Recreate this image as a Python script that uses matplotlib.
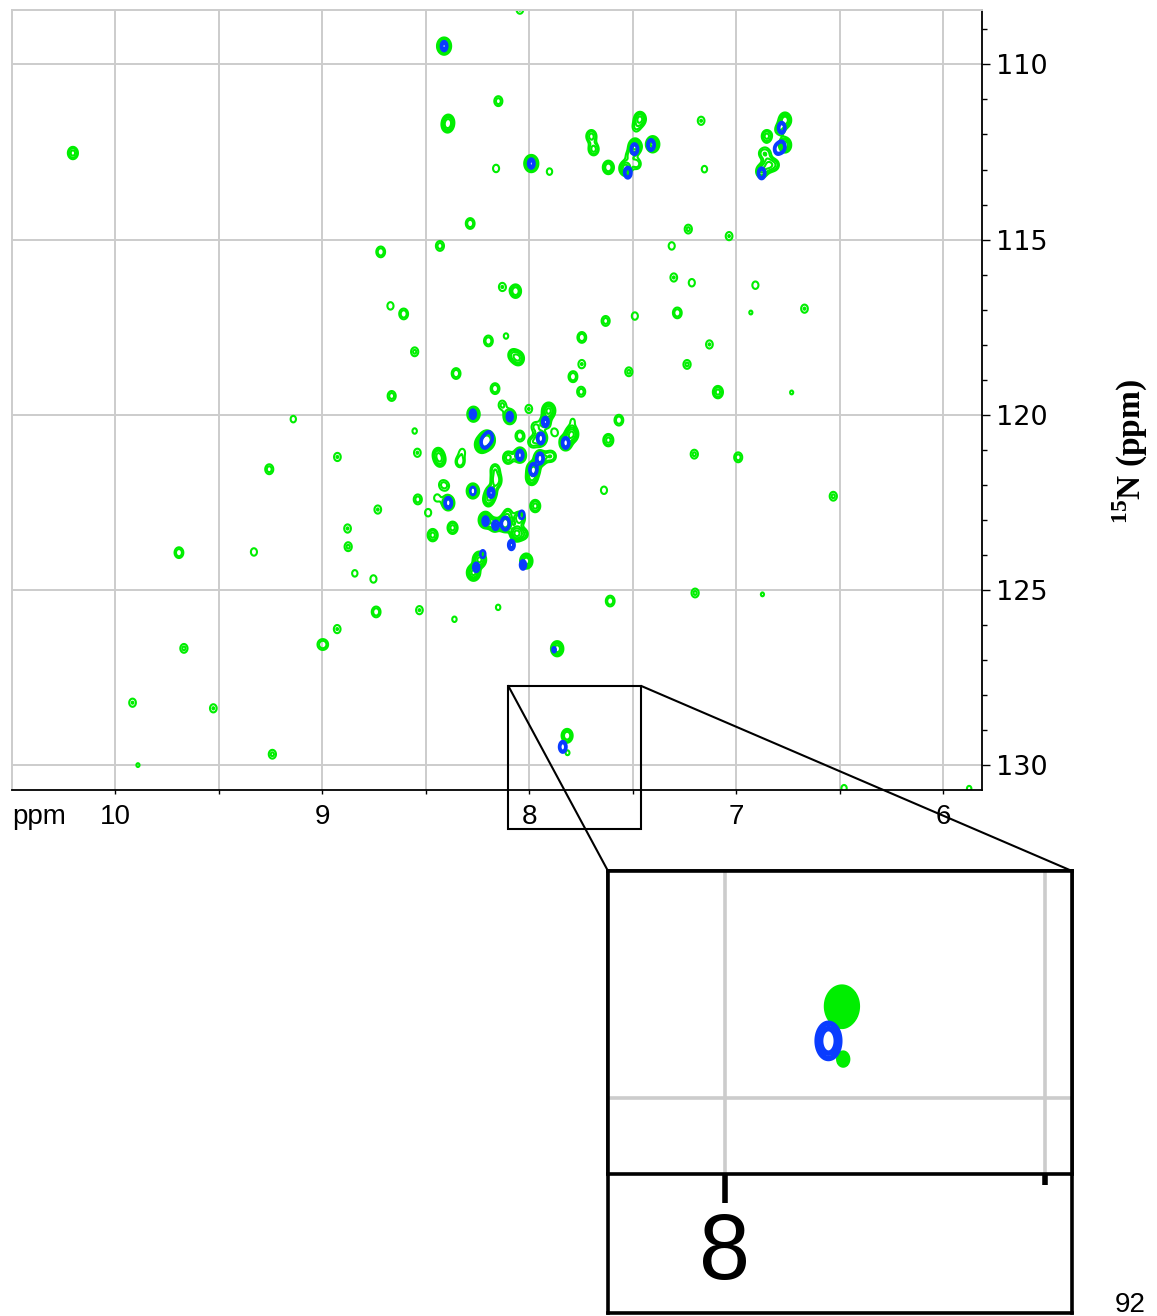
import numpy as np
import matplotlib
matplotlib.use("Agg")
import matplotlib.pyplot as plt
from matplotlib.patches import Rectangle, ConnectionPatch
from matplotlib.ticker import FixedLocator, FuncFormatter

plt.rcParams["mathtext.fontset"] = "custom"
plt.rcParams["mathtext.rm"] = "Liberation Serif:bold"
plt.rcParams["mathtext.bf"] = "Liberation Serif:bold"

# 1H / 15N peak positions (ppm) and heights, green spectrum
green_h = [10.203, 8.045, 8.411, 8.149, 8.390, 8.395, 7.700, 7.465, 7.484, 7.689,
           7.489, 7.404, 7.517, 7.481, 7.535, 7.618, 7.990, 8.160, 7.902, 8.285,
           8.431, 8.717, 7.170, 7.154, 6.765, 6.853, 6.765, 6.874, 6.850, 6.845,
           6.813, 6.878, 7.232, 7.312, 7.035, 6.790,
           9.139, 9.255, 8.926, 8.130, 8.066, 8.670, 8.606, 8.197, 8.112, 8.079,
           8.052, 8.553, 8.353, 8.165, 8.664, 8.130, 8.002, 7.906, 8.269, 8.094,
           7.922, 7.790, 7.971, 8.204, 8.230, 8.045, 7.944, 7.984, 7.877, 7.795,
           7.824, 7.631, 7.490, 7.746, 7.746, 7.519, 7.789, 7.749, 7.567, 7.618,
           7.639, 8.540, 8.553, 8.440, 8.430, 8.334, 8.323, 8.165, 8.160, 8.102,
           8.045, 7.948, 7.980, 7.988, 7.906, 7.887, 8.272, 8.184, 8.197, 8.391,
           8.538, 8.446, 8.422, 8.400, 8.731, 8.488, 7.971, 8.212, 8.167, 8.116,
           8.103, 8.047, 8.370, 8.877, 8.159, 8.061, 8.024, 8.466, 8.874, 8.842,
           8.752, 8.240, 8.269, 8.014, 8.739, 8.530, 8.150, 8.361, 8.927, 7.609,
           7.865, 7.817, 7.815, 7.302, 7.215, 6.908, 7.285, 6.930, 6.671, 7.130,
           7.238, 7.089, 6.733, 7.203, 6.991, 6.532, 9.691, 9.329, 9.006, 8.985,
           9.667, 9.915, 9.525, 9.240, 9.889, 7.199, 6.874, 6.480, 5.876]
green_n = [112.53, 108.44, 109.48, 111.05, 111.62, 111.76, 112.05, 111.56, 111.80, 112.42,
           112.35, 112.28, 112.61, 112.84, 112.97, 112.94, 112.83, 112.97, 113.06, 114.54,
           115.18, 115.35, 111.61, 112.99, 111.59, 112.05, 112.30, 112.54, 112.54, 112.87,
           112.87, 113.05, 114.70, 115.18, 114.90, 111.85,
           120.12, 121.55, 121.20, 116.35, 116.47, 116.89, 117.12, 117.89, 117.75, 118.29,
           118.39, 118.20, 118.82, 119.25, 119.46, 119.72, 119.83, 119.88, 119.98, 120.05,
           120.20, 120.17, 120.34, 120.72, 120.85, 120.60, 120.67, 120.78, 120.50, 120.55,
           120.80, 117.32, 117.18, 117.79, 118.55, 118.77, 118.91, 119.34, 120.15, 120.72,
           122.15, 121.08, 120.46, 121.12, 121.30, 121.34, 121.05, 121.55, 121.80, 121.22,
           121.15, 121.24, 121.56, 121.81, 121.18, 121.18, 122.17, 122.22, 122.43, 122.51,
           122.41, 122.37, 121.98, 122.03, 122.70, 122.79, 122.60, 123.00, 123.14, 123.10,
           122.81, 122.95, 123.22, 123.24, 121.94, 123.38, 123.40, 123.43, 123.76, 124.52,
           124.68, 124.13, 124.50, 124.17, 125.62, 125.57, 125.49, 125.83, 126.11, 125.31,
           126.67, 129.15, 129.64, 116.08, 116.23, 116.30, 117.09, 117.08, 116.97, 117.99,
           118.56, 119.35, 119.36, 121.12, 121.21, 122.32, 123.93, 123.91, 126.55, 126.55,
           126.66, 128.21, 128.37, 129.68, 129.99, 125.08, 125.12, 130.65, 130.66]
green_amp = [2.5, 1.5, 6.0, 1.8, 2.5, 2.5, 2.5, 3.5, 1.4, 2.5,
             5.0, 5.0, 1.4, 1.8, 4.0, 3.0, 6.0, 1.4, 1.3, 2.0,
             1.8, 2.0, 1.5, 1.3, 4.0, 2.5, 4.0, 1.4, 1.2, 3.0,
             1.6, 3.0, 1.6, 1.4, 1.5, 2.0,
             1.3, 1.8, 1.5, 1.5, 3.0, 1.4, 2.0, 2.0, 1.2, 2.0,
             3.0, 1.6, 2.0, 2.0, 1.8, 1.6, 1.5, 5.0, 4.0, 4.0,
             2.5, 1.1, 1.6, 10.0, 5.0, 2.0, 4.0, 1.8, 1.4, 5.0,
             4.0, 1.8, 1.4, 2.0, 1.5, 1.6, 2.0, 1.8, 2.0, 2.5,
             1.4, 1.5, 1.2, 2.5, 2.5, 2.0, 1.2, 1.8, 1.8, 2.5,
             4.0, 4.0, 5.0, 3.0, 1.2, 1.2, 4.0, 3.0, 2.5, 4.0,
             1.8, 1.3, 1.1, 1.1, 1.5, 1.4, 2.5, 5.0, 3.0, 6.0,
             1.6, 3.0, 2.5, 1.5, 1.5, 5.0, 1.5, 2.5, 1.6, 1.3,
             1.4, 5.0, 5.0, 4.0, 2.0, 1.5, 1.2, 1.2, 1.5, 2.0,
             4.0, 3.0, 1.15, 1.5, 1.4, 1.4, 2.0, 1.1, 1.5, 1.5,
             1.6, 2.5, 1.1, 1.6, 1.8, 1.6, 2.0, 1.4, 1.3, 1.1,
             1.6, 1.5, 1.5, 1.6, 1.1, 1.6, 1.1, 1.3, 1.2]

# blue spectrum
blue_h = [8.411, 7.990, 7.492, 7.412, 7.524, 6.781, 6.781, 6.802, 6.878, 8.272,
          8.094, 7.922, 8.215, 8.195, 7.944, 7.824, 8.045, 7.948, 7.980, 8.272,
          8.184, 8.391, 8.211, 8.163, 8.115, 8.036, 8.086, 8.224, 8.256, 8.030,
          7.880, 7.838]
blue_n = [109.48, 112.83, 112.42, 112.30, 113.09, 111.81, 112.35, 112.42, 113.11, 119.98,
          120.05, 120.20, 120.78, 120.65, 120.67, 120.80, 121.15, 121.24, 121.56, 122.17,
          122.22, 122.51, 123.03, 123.15, 123.10, 122.85, 123.71, 123.97, 124.35, 124.28,
          126.70, 129.47]
blue_amp = [2.0, 2.0, 2.5, 2.5, 2.5, 2.5, 2.5, 2.0, 2.5, 1.8,
            1.8, 2.0, 3.0, 3.0, 2.5, 2.5, 2.2, 2.5, 3.0, 1.6,
            2.0, 2.5, 1.8, 1.8, 3.5, 1.6, 2.0, 1.5, 1.8, 1.8,
            1.2, 2.5]

green_levels = [1.0, 1.45, 2.1, 3.0, 4.3, 6.2]
blue_levels = [1.0, 1.6]

x_major = [10.5, 10.0, 9.5, 9.0, 8.5, 8.0, 7.5, 7.0, 6.5, 6.0]
y_major = [110, 115, 120, 125, 130]


def spectrum(h, n, amp, xs, ys, sx, sy):
    z = np.zeros((len(ys), len(xs)))
    for x0, y0, a in zip(h, n, amp):
        gx = np.exp(-0.5 * ((xs - x0) / sx) ** 2)
        gy = np.exp(-0.5 * ((ys - y0) / sy) ** 2)
        z += a * np.outer(gy, gx)
    return z


W, H = 1157, 1316
fig = plt.figure(figsize=(W / 100, H / 100), dpi=100)


def frac(x0, y0, x1, y1):
    return [x0 / W, 1 - y1 / H, (x1 - x0) / W, (y1 - y0) / H]


ax = fig.add_axes(frac(12, 10, 982, 790))

xs = np.arange(5.75, 10.55, 0.004)
ys = np.arange(108.3, 130.9, 0.03)
zg = spectrum(green_h, green_n, green_amp, xs, ys, 0.018, 0.13)
zb = spectrum(blue_h, blue_n, blue_amp, xs, ys, 0.013, 0.12)
ax.contour(xs, ys, zg, levels=green_levels, colors="#00ee00", linewidths=1.5, zorder=2)
ax.contour(xs, ys, zb, levels=blue_levels, colors="#0a3cff", linewidths=1.9, zorder=3)

ax.set_xlim(10.497, 5.814)
ax.set_ylim(130.70, 108.45)

ax.xaxis.set_major_locator(FixedLocator(x_major))
ax.xaxis.set_major_formatter(FuncFormatter(lambda v, p: f"{v:.0f}" if v == int(v) and v < 10.5 else ""))
ax.yaxis.tick_right()
ax.yaxis.set_major_locator(FixedLocator(y_major))
ax.yaxis.set_minor_locator(FixedLocator(np.arange(109, 131, 1)))
ax.tick_params(axis="x", direction="out", length=3, width=1, pad=7,
               labelsize=20, labelfontfamily="Liberation Sans")
ax.tick_params(axis="y", which="major", direction="out", length=6, width=1, pad=4,
               labelsize=19.5, labelfontfamily="DejaVu Sans")
ax.tick_params(axis="y", which="minor", direction="out", length=3.5, width=1)
ax.grid(True, color="#cccccc", linewidth=1.4)
ax.set_axisbelow(True)
for side in ("top", "left"):
    ax.spines[side].set_color("#cccccc")
    ax.spines[side].set_linewidth(1.4)
for side in ("right", "bottom"):
    ax.spines[side].set_linewidth(1.3)

ax.annotate("ppm", xy=(0, 0), xycoords="axes fraction", xytext=(0, -10),
            textcoords="offset points", ha="left", va="top", fontsize=20,
            family="Liberation Sans")

fig.text(1130 / W, 1 - 452 / H, r"$^{\mathbf{15}}$N (ppm)", rotation=90,
         ha="center", va="center", fontsize=24, family="Liberation Serif",
         weight="bold")

# zoom box around the 129 ppm peak
ax.add_patch(Rectangle((7.460, 127.73), 8.101 - 7.460, 131.82 - 127.73,
                       fill=False, edgecolor="black", linewidth=1.5,
                       clip_on=False, zorder=5))

# magnified view
frame = fig.add_axes(frac(608, 871, 1072, 1313))
frame.set_xticks([])
frame.set_yticks([])
for s in frame.spines.values():
    s.set_linewidth(2.6)

axin = fig.add_axes(frac(608, 871, 1072, 1174))
xi = np.arange(7.44, 8.20, 0.0013)
yi = np.arange(127.8, 130.8, 0.01)
zgi = spectrum(green_h, green_n, green_amp, xi, yi, 0.018, 0.13)
zbi = spectrum(blue_h, blue_n, blue_amp, xi, yi, 0.013, 0.12)
axin.contourf(xi, yi, zgi, levels=[green_levels[0], 100], colors="#00ee00", zorder=2)
axin.contour(xi, yi, zgi, levels=green_levels[:1], colors="#00ee00", linewidths=1.5, zorder=2)
axin.contour(xi, yi, zbi, levels=blue_levels, colors="#0a3cff", linewidths=4.0, zorder=3)
axin.set_xlim(8.182, 7.458)
axin.set_ylim(130.70, 127.90)
axin.set_xticks([8.0])
axin.set_xticklabels(["8"])
axin.set_xticks([7.5], minor=True)
axin.set_yticks([130], labels=[""])
axin.tick_params(axis="y", length=0)
axin.tick_params(axis="x", which="major", length=21, width=4, pad=6,
                 labelsize=66, labelfontfamily="Liberation Sans")
axin.tick_params(axis="x", which="minor", length=8, width=4)
axin.grid(True, which="both", color="#cccccc", linewidth=2.6)
axin.set_axisbelow(True)
for s in axin.spines.values():
    s.set_linewidth(2.6)

for xa, xb in (((8.101, 127.73), (0, 1)), ((7.460, 127.73), (1, 1))):
    con = ConnectionPatch(xyA=xa, coordsA=ax.transData, xyB=xb, coordsB=frame.transAxes,
                          color="black", linewidth=1.5, zorder=6)
    fig.add_artist(con)

fig.text(1115 / W, 1 - 1292 / H, "92", ha="left", va="top", fontsize=20,
         family="Liberation Sans")

fig.savefig("out.png", dpi=100)
